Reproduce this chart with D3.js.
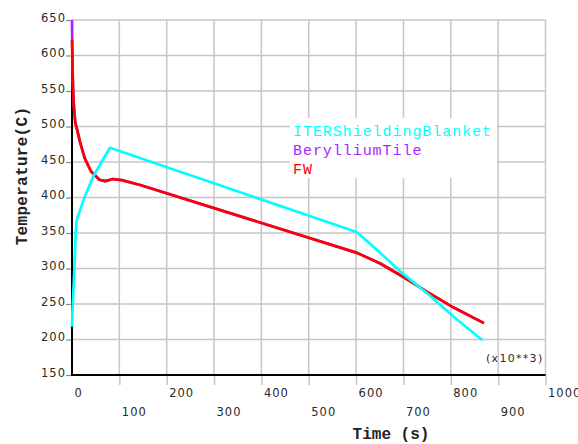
<!DOCTYPE html>
<html>
<head>
<meta charset="utf-8">
<script src="https://cdn.jsdelivr.net/npm/d3@7"></script>
<style>
  body { margin: 0; background: #fff; }
  svg { display: block; }
</style>
</head>
<body>
<div id="chart"></div>
<script>
// data (time in x10**3 s, temperature in C)
const blanketTime = [0, 1, 4, 8, 10, 24, 45, 80, 524, 602, 651, 693, 750, 806, 867];
const blanketTemp = [218, 240, 284, 352, 368, 396, 430, 470, 369, 351, 322, 296, 265, 232, 199];

const tileTime = [0, 0.5, 1, 2, 4, 7, 11, 17, 27, 40, 58, 70, 87, 105, 144, 602, 651, 700, 750, 806, 870];
const tileTemp = [650, 622, 590, 556, 528, 505, 495, 478, 455, 437, 425, 423, 426, 424.5, 417.6, 322, 307, 288, 267, 245, 223];

const fwTime = [0, 1, 2, 4, 7, 11, 17, 27, 40, 58, 70, 87, 105, 144, 602, 651, 700, 750, 806, 870];
const fwTemp = [622, 590, 556, 528, 505, 495, 478, 455, 437, 425, 423, 426, 424.5, 417.6, 322, 307, 288, 267, 245, 223];

const seriesNames = ["ITERShieldingBlanket", "BerylliumTile", "FW"];
const seriesColors = ["#00ffff", "#a626ff", "#ff0000"];

const xTicks = [0, 100, 200, 300, 400, 500, 600, 700, 800, 900, 1000];
const yTicks = [150, 200, 250, 300, 350, 400, 450, 500, 550, 600, 650];

const width = 578, height = 444;
const svg = d3.select("#chart").append("svg")
  .attr("width", width)
  .attr("height", height);

const x = d3.scaleLinear().domain([0, 1000]).range([72, 545.5]);
const y = d3.scaleLinear().domain([150, 650]).range([375, 20]);

const grid = "#c6c6c6";

// grid
svg.append("g").selectAll("line")
  .data(xTicks.slice(1))
  .join("line")
  .attr("x1", d => x(d)).attr("x2", d => x(d))
  .attr("y1", y(650)).attr("y2", y(150))
  .attr("stroke", grid).attr("stroke-width", 1.5);

svg.append("g").selectAll("line")
  .data(yTicks.slice(1))
  .join("line")
  .attr("x1", x(0)).attr("x2", x(1000))
  .attr("y1", d => y(d)).attr("y2", d => y(d))
  .attr("stroke", grid).attr("stroke-width", 1.5);

// axes
const xAxis = svg.append("g")
  .attr("transform", `translate(0,${y(150)})`)
  .call(d3.axisBottom(x).tickValues(xTicks).tickFormat(d3.format("d")).tickSize(10).tickSizeOuter(0));
xAxis.select(".domain").remove();
xAxis.selectAll(".tick line").attr("stroke", grid).attr("stroke-width", 1.5)
  .filter(d => d === 0).remove();
xAxis.selectAll(".tick text")
  .attr("x", 2)
  .attr("dy", 0)
  .attr("y", (d, i) => i % 2 ? 41 : 22)
  .attr("text-anchor", "start")
  .style("font-family", "DejaVu Sans")
  .style("font-size", "11.5px")
  .style("letter-spacing", "1px")
  .attr("fill", "#2a2a2a");

const yAxis = svg.append("g")
  .attr("transform", `translate(${x(0)},0)`)
  .call(d3.axisLeft(y).tickValues(yTicks).tickSize(6).tickSizeOuter(0));
yAxis.select(".domain").remove();
yAxis.selectAll(".tick line").attr("stroke", "#888").attr("stroke-width", 1.2);
yAxis.selectAll(".tick text")
  .attr("x", -6)
  .attr("dy", 0)
  .attr("y", 1)
  .style("font-family", "DejaVu Sans")
  .style("font-size", "11.5px")
  .style("letter-spacing", "1px")
  .attr("fill", "#2a2a2a");

// black axis lines
svg.append("line")
  .attr("x1", x(0)).attr("x2", x(0))
  .attr("y1", y(650)).attr("y2", y(150) + 1)
  .attr("stroke", "#000").attr("stroke-width", 2);
svg.append("line")
  .attr("x1", x(0) - 1).attr("x2", x(1000))
  .attr("y1", y(150)).attr("y2", y(150))
  .attr("stroke", "#000").attr("stroke-width", 2);

// curves
const line = d3.line()
  .x(d => x(d[0]))
  .y(d => y(d[1]));

const series = [
  { name: seriesNames[1], color: seriesColors[1], pts: d3.zip(tileTime, tileTemp) },
  { name: seriesNames[2], color: seriesColors[2], pts: d3.zip(fwTime, fwTemp) },
  { name: seriesNames[0], color: seriesColors[0], pts: d3.zip(blanketTime, blanketTemp) }
];

svg.append("g").selectAll("path")
  .data(series)
  .join("path")
  .attr("d", d => line(d.pts))
  .attr("fill", "none")
  .attr("stroke", d => d.color)
  .attr("stroke-width", 2.7)
  .attr("stroke-linejoin", "round");

// legend
svg.append("rect")
  .attr("x", 290).attr("y", 118)
  .attr("width", 207).attr("height", 60)
  .attr("fill", "#fff");

svg.append("g").selectAll("text")
  .data(seriesNames)
  .join("text")
  .attr("x", 293)
  .attr("y", (d, i) => 136 + i * 19)
  .text(d => d)
  .attr("fill", (d, i) => seriesColors[i])
  .style("font-family", "Liberation Mono")
  .style("font-size", "15px")
  .style("letter-spacing", "0.95px");

// multiplier note
svg.append("text")
  .attr("x", 486).attr("y", 362)
  .text("(x10**3)")
  .attr("fill", "#2a2a2a")
  .style("font-family", "DejaVu Sans")
  .style("font-size", "11px")
  .style("letter-spacing", "1.3px");

// titles
svg.append("text")
  .attr("x", 391).attr("y", 439)
  .attr("text-anchor", "middle")
  .text("Time (s)")
  .style("font-family", "Liberation Mono")
  .style("font-weight", "bold")
  .style("font-size", "16px")
  .attr("fill", "#222");

svg.append("text")
  .attr("transform", "translate(27,176) rotate(-90)")
  .attr("text-anchor", "middle")
  .text("Temperature(C)")
  .style("font-family", "Liberation Mono")
  .style("font-weight", "bold")
  .style("font-size", "16px")
  .style("letter-spacing", "0.3px")
  .attr("fill", "#222");
</script>
</body>
</html>
